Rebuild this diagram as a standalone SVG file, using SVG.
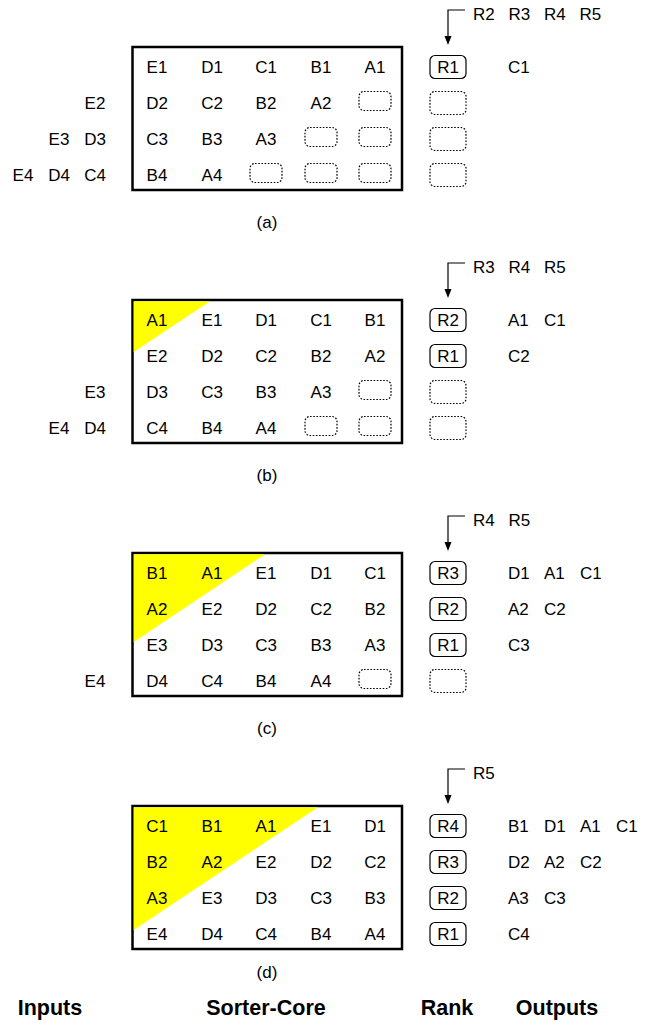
<svg xmlns="http://www.w3.org/2000/svg" width="657" height="1029" viewBox="0 0 657 1029">
<style>
text{font-family:"Liberation Sans",Arial,Helvetica,sans-serif;font-size:17px;fill:#000}
.c{text-anchor:middle}
.b{font-weight:bold;font-size:21.5px;text-anchor:middle}
.core{fill:#fff;stroke:#000;stroke-width:2.5}
.dot{fill:none;stroke:#000;stroke-width:1.2;stroke-dasharray:1.6 1.6}
.rk{fill:none;stroke:#000;stroke-width:1.2}
.hl{fill:#ffff00}
.ln{fill:none;stroke:#000;stroke-width:1.2}
.ah{fill:#000}
</style>
<rect width="657" height="1029" fill="#fff"/>

<!-- Panel (a) -->
<g id="panel-a">
<rect class="core" x="132.5" y="47" width="269.5" height="143"/>
<g id="a-core">
<text class="c" x="157" y="73">E1</text><text class="c" x="212" y="73">D1</text><text class="c" x="266" y="73">C1</text><text class="c" x="321" y="73">B1</text><text class="c" x="375" y="73">A1</text>
<text class="c" x="157" y="109">D2</text><text class="c" x="212" y="109">C2</text><text class="c" x="266" y="109">B2</text><text class="c" x="321" y="109">A2</text><rect class="dot" x="359" y="91.5" width="32" height="19" rx="5"/>
<text class="c" x="157" y="145">C3</text><text class="c" x="212" y="145">B3</text><text class="c" x="266" y="145">A3</text><rect class="dot" x="305" y="127.5" width="32" height="19" rx="5"/><rect class="dot" x="359" y="127.5" width="32" height="19" rx="5"/>
<text class="c" x="157" y="181">B4</text><text class="c" x="212" y="181">A4</text><rect class="dot" x="250" y="163.5" width="32" height="19" rx="5"/><rect class="dot" x="305" y="163.5" width="32" height="19" rx="5"/><rect class="dot" x="359" y="163.5" width="32" height="19" rx="5"/>
</g>
<g id="a-inputs">
<text class="c" x="95" y="109">E2</text>
<text class="c" x="59" y="145">E3</text><text class="c" x="95" y="145">D3</text>
<text class="c" x="23" y="181">E4</text><text class="c" x="59" y="181">D4</text><text class="c" x="95" y="181">C4</text>
</g>
<g id="a-rank">
<rect class="rk" x="430" y="55.5" width="36" height="23" rx="5"/><text class="c" x="448" y="73">R1</text>
<rect class="dot" x="430" y="91.5" width="36" height="23" rx="5"/>
<rect class="dot" x="430" y="127.5" width="36" height="23" rx="5"/>
<rect class="dot" x="430" y="163.5" width="36" height="23" rx="5"/>
</g>
<g id="a-queue"><text x="473" y="20">R2</text><text x="508.5" y="20">R3</text><text x="544" y="20">R4</text><text x="579.5" y="20">R5</text></g>
<g id="a-outputs"><text x="508" y="73">C1</text></g>
<text class="c" x="267" y="228">(a)</text>
</g>

<!-- Panel (b) -->
<g id="panel-b">
<rect class="core" x="132.5" y="300" width="269.5" height="143"/>
<polygon class="hl" points="133.7,301.2 210,301.2 133.7,352"/>
<g id="b-core">
<text class="c" x="157" y="326">A1</text><text class="c" x="212" y="326">E1</text><text class="c" x="266" y="326">D1</text><text class="c" x="321" y="326">C1</text><text class="c" x="375" y="326">B1</text>
<text class="c" x="157" y="362">E2</text><text class="c" x="212" y="362">D2</text><text class="c" x="266" y="362">C2</text><text class="c" x="321" y="362">B2</text><text class="c" x="375" y="362">A2</text>
<text class="c" x="157" y="398">D3</text><text class="c" x="212" y="398">C3</text><text class="c" x="266" y="398">B3</text><text class="c" x="321" y="398">A3</text><rect class="dot" x="359" y="380.5" width="32" height="19" rx="5"/>
<text class="c" x="157" y="434">C4</text><text class="c" x="212" y="434">B4</text><text class="c" x="266" y="434">A4</text><rect class="dot" x="305" y="416.5" width="32" height="19" rx="5"/><rect class="dot" x="359" y="416.5" width="32" height="19" rx="5"/>
</g>
<g id="b-inputs">
<text class="c" x="95" y="398">E3</text>
<text class="c" x="59" y="434">E4</text><text class="c" x="95" y="434">D4</text>
</g>
<g id="b-rank">
<rect class="rk" x="430" y="308.5" width="36" height="23" rx="5"/><text class="c" x="448" y="326">R2</text>
<rect class="rk" x="430" y="344.5" width="36" height="23" rx="5"/><text class="c" x="448" y="362">R1</text>
<rect class="dot" x="430" y="380.5" width="36" height="23" rx="5"/>
<rect class="dot" x="430" y="416.5" width="36" height="23" rx="5"/>
</g>
<g id="b-queue"><text x="473" y="273">R3</text><text x="508.5" y="273">R4</text><text x="544" y="273">R5</text></g>
<g id="b-outputs"><text x="508" y="326">A1</text><text x="544" y="326">C1</text><text x="508" y="362">C2</text></g>
<text class="c" x="267" y="481">(b)</text>
</g>

<!-- Panel (c) -->
<g id="panel-c">
<rect class="core" x="132.5" y="553" width="269.5" height="143"/>
<polygon class="hl" points="133.7,554.2 265,554.2 133.7,642"/>
<g id="c-core">
<text class="c" x="157" y="579">B1</text><text class="c" x="212" y="579">A1</text><text class="c" x="266" y="579">E1</text><text class="c" x="321" y="579">D1</text><text class="c" x="375" y="579">C1</text>
<text class="c" x="157" y="615">A2</text><text class="c" x="212" y="615">E2</text><text class="c" x="266" y="615">D2</text><text class="c" x="321" y="615">C2</text><text class="c" x="375" y="615">B2</text>
<text class="c" x="157" y="651">E3</text><text class="c" x="212" y="651">D3</text><text class="c" x="266" y="651">C3</text><text class="c" x="321" y="651">B3</text><text class="c" x="375" y="651">A3</text>
<text class="c" x="157" y="687">D4</text><text class="c" x="212" y="687">C4</text><text class="c" x="266" y="687">B4</text><text class="c" x="321" y="687">A4</text><rect class="dot" x="359" y="669.5" width="32" height="19" rx="5"/>
</g>
<g id="c-inputs"><text class="c" x="95" y="687">E4</text></g>
<g id="c-rank">
<rect class="rk" x="430" y="561.5" width="36" height="23" rx="5"/><text class="c" x="448" y="579">R3</text>
<rect class="rk" x="430" y="597.5" width="36" height="23" rx="5"/><text class="c" x="448" y="615">R2</text>
<rect class="rk" x="430" y="633.5" width="36" height="23" rx="5"/><text class="c" x="448" y="651">R1</text>
<rect class="dot" x="430" y="669.5" width="36" height="23" rx="5"/>
</g>
<g id="c-queue"><text x="473" y="526">R4</text><text x="508.5" y="526">R5</text></g>
<g id="c-outputs">
<text x="508" y="579">D1</text><text x="544" y="579">A1</text><text x="580" y="579">C1</text>
<text x="508" y="615">A2</text><text x="544" y="615">C2</text>
<text x="508" y="651">C3</text>
</g>
<text class="c" x="267" y="734">(c)</text>
</g>

<!-- Panel (d) -->
<g id="panel-d">
<rect class="core" x="132.5" y="806" width="269.5" height="143"/>
<polygon class="hl" points="133.7,807.2 318,807.2 133.7,930"/>
<g id="d-core">
<text class="c" x="157" y="832">C1</text><text class="c" x="212" y="832">B1</text><text class="c" x="266" y="832">A1</text><text class="c" x="321" y="832">E1</text><text class="c" x="375" y="832">D1</text>
<text class="c" x="157" y="868">B2</text><text class="c" x="212" y="868">A2</text><text class="c" x="266" y="868">E2</text><text class="c" x="321" y="868">D2</text><text class="c" x="375" y="868">C2</text>
<text class="c" x="157" y="904">A3</text><text class="c" x="212" y="904">E3</text><text class="c" x="266" y="904">D3</text><text class="c" x="321" y="904">C3</text><text class="c" x="375" y="904">B3</text>
<text class="c" x="157" y="940">E4</text><text class="c" x="212" y="940">D4</text><text class="c" x="266" y="940">C4</text><text class="c" x="321" y="940">B4</text><text class="c" x="375" y="940">A4</text>
</g>
<g id="d-rank">
<rect class="rk" x="430" y="814.5" width="36" height="23" rx="5"/><text class="c" x="448" y="832">R4</text>
<rect class="rk" x="430" y="850.5" width="36" height="23" rx="5"/><text class="c" x="448" y="868">R3</text>
<rect class="rk" x="430" y="886.5" width="36" height="23" rx="5"/><text class="c" x="448" y="904">R2</text>
<rect class="rk" x="430" y="922.5" width="36" height="23" rx="5"/><text class="c" x="448" y="940">R1</text>
</g>
<g id="d-queue"><text x="473" y="779">R5</text></g>
<g id="d-outputs">
<text x="508" y="832">B1</text><text x="544" y="832">D1</text><text x="580" y="832">A1</text><text x="616" y="832">C1</text>
<text x="508" y="868">D2</text><text x="544" y="868">A2</text><text x="580" y="868">C2</text>
<text x="508" y="904">A3</text><text x="544" y="904">C3</text>
<text x="508" y="940">C4</text>
</g>
<text class="c" x="267" y="978">(d)</text>
</g>

<!-- Connectors -->
<g id="connectors">
<path class="ln" d="M465,10 H448 V37"/><polygon class="ah" points="444.5,36 451.5,36 448,45"/>
<path class="ln" d="M465,263 H448 V290"/><polygon class="ah" points="444.5,289 451.5,289 448,298"/>
<path class="ln" d="M465,516 H448 V543"/><polygon class="ah" points="444.5,542 451.5,542 448,551"/>
<path class="ln" d="M465,769 H448 V796"/><polygon class="ah" points="444.5,795 451.5,795 448,804"/>
</g>

<!-- Column headings -->
<g id="headings">
<text class="b" x="50" y="1015">Inputs</text>
<text class="b" x="266" y="1015">Sorter-Core</text>
<text class="b" x="447" y="1015">Rank</text>
<text class="b" x="557" y="1015">Outputs</text>
</g>
</svg>
